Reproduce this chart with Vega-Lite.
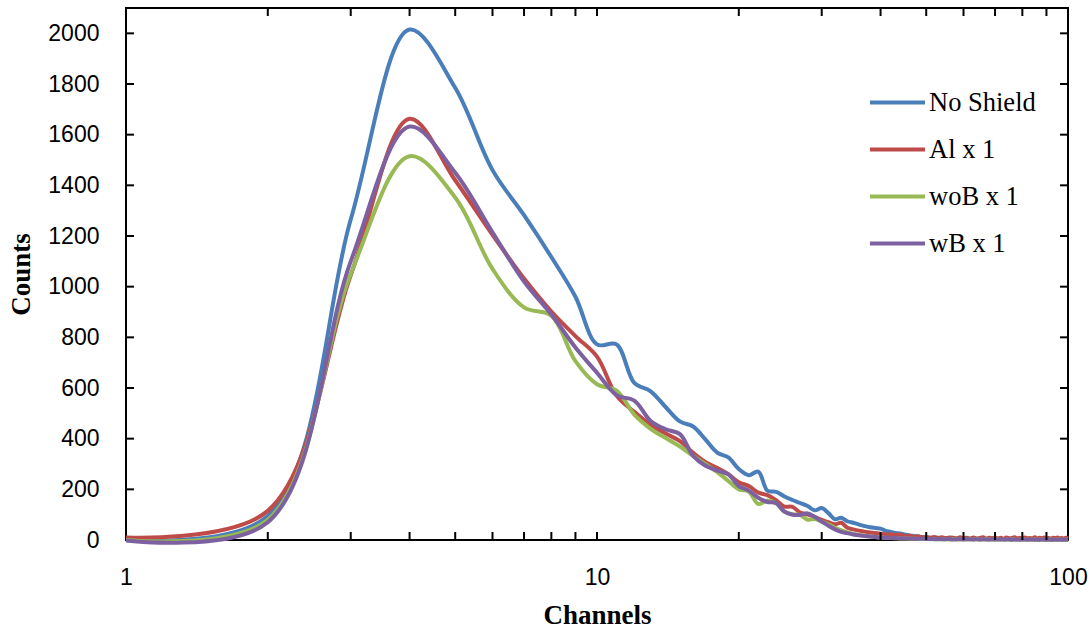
{
  "$schema": "https://vega.github.io/schema/vega-lite/v6.json",
  "width": 942,
  "height": 532,
  "autosize": {"type": "none"},
  "padding": {"left": 126, "top": 8, "right": 22, "bottom": 88},
  "background": "white",
  "config": {
    "view": {"stroke": "black", "strokeWidth": 2}
  },
  "layer": [
    {
      "data": {"values": [
        {"ch":1,"No Shield":2,"Al x 1":10,"woB x 1":0,"wB x 1":-2},
        {"ch":2,"No Shield":95,"Al x 1":115,"woB x 1":80,"wB x 1":70},
        {"ch":3,"No Shield":1265,"Al x 1":1045,"woB x 1":1050,"wB x 1":1100},
        {"ch":4,"No Shield":2015,"Al x 1":1663,"woB x 1":1515,"wB x 1":1632},
        {"ch":5,"No Shield":1785,"Al x 1":1420,"woB x 1":1352,"wB x 1":1450},
        {"ch":6,"No Shield":1460,"Al x 1":1205,"woB x 1":1070,"wB x 1":1215},
        {"ch":7,"No Shield":1282,"Al x 1":1032,"woB x 1":918,"wB x 1":1020},
        {"ch":8,"No Shield":1117,"Al x 1":902,"woB x 1":885,"wB x 1":890},
        {"ch":9,"No Shield":960,"Al x 1":805,"woB x 1":706,"wB x 1":760},
        {"ch":10,"No Shield":772,"Al x 1":724,"woB x 1":615,"wB x 1":660},
        {"ch":11,"No Shield":772,"Al x 1":570,"woB x 1":590,"wB x 1":572},
        {"ch":12,"No Shield":620,"Al x 1":506,"woB x 1":495,"wB x 1":550},
        {"ch":13,"No Shield":587,"Al x 1":455,"woB x 1":439,"wB x 1":470},
        {"ch":14,"No Shield":524,"Al x 1":420,"woB x 1":402,"wB x 1":437},
        {"ch":15,"No Shield":468,"Al x 1":390,"woB x 1":369,"wB x 1":418},
        {"ch":16,"No Shield":448,"Al x 1":344,"woB x 1":332,"wB x 1":332},
        {"ch":17,"No Shield":396,"Al x 1":307,"woB x 1":299,"wB x 1":293},
        {"ch":18,"No Shield":345,"Al x 1":284,"woB x 1":268,"wB x 1":274},
        {"ch":19,"No Shield":326,"Al x 1":260,"woB x 1":233,"wB x 1":259},
        {"ch":20,"No Shield":280,"Al x 1":228,"woB x 1":200,"wB x 1":213},
        {"ch":21,"No Shield":256,"Al x 1":213,"woB x 1":191,"wB x 1":195},
        {"ch":22,"No Shield":270,"Al x 1":187,"woB x 1":142,"wB x 1":167},
        {"ch":23,"No Shield":195,"Al x 1":177,"woB x 1":156,"wB x 1":150},
        {"ch":24,"No Shield":190,"Al x 1":157,"woB x 1":145,"wB x 1":146},
        {"ch":25,"No Shield":172,"Al x 1":132,"woB x 1":112,"wB x 1":112},
        {"ch":26,"No Shield":158,"Al x 1":131,"woB x 1":102,"wB x 1":100},
        {"ch":27,"No Shield":146,"Al x 1":108,"woB x 1":99,"wB x 1":99},
        {"ch":28,"No Shield":134,"Al x 1":100,"woB x 1":80,"wB x 1":105},
        {"ch":29,"No Shield":117,"Al x 1":91,"woB x 1":83,"wB x 1":91},
        {"ch":30,"No Shield":126,"Al x 1":79,"woB x 1":73,"wB x 1":73},
        {"ch":31,"No Shield":106,"Al x 1":70,"woB x 1":62,"wB x 1":56},
        {"ch":32,"No Shield":82,"Al x 1":62,"woB x 1":48,"wB x 1":42},
        {"ch":33,"No Shield":88,"Al x 1":68,"woB x 1":38,"wB x 1":32},
        {"ch":34,"No Shield":74,"Al x 1":48,"woB x 1":30,"wB x 1":27},
        {"ch":35,"No Shield":68,"Al x 1":42,"woB x 1":24,"wB x 1":22},
        {"ch":36,"No Shield":61,"Al x 1":37,"woB x 1":20,"wB x 1":19},
        {"ch":37,"No Shield":55,"Al x 1":33,"woB x 1":17,"wB x 1":16},
        {"ch":38,"No Shield":50,"Al x 1":30,"woB x 1":14,"wB x 1":14},
        {"ch":39,"No Shield":47,"Al x 1":28,"woB x 1":12,"wB x 1":12},
        {"ch":40,"No Shield":45,"Al x 1":25,"woB x 1":10,"wB x 1":10},
        {"ch":41,"No Shield":36,"Al x 1":22,"woB x 1":9,"wB x 1":9},
        {"ch":42,"No Shield":32,"Al x 1":23,"woB x 1":8,"wB x 1":8},
        {"ch":43,"No Shield":28,"Al x 1":19,"woB x 1":7,"wB x 1":8},
        {"ch":44,"No Shield":26,"Al x 1":22,"woB x 1":6,"wB x 1":7},
        {"ch":45,"No Shield":22,"Al x 1":15,"woB x 1":6,"wB x 1":6},
        {"ch":46,"No Shield":18,"Al x 1":18,"woB x 1":5,"wB x 1":6},
        {"ch":47,"No Shield":16,"Al x 1":12,"woB x 1":5,"wB x 1":5},
        {"ch":48,"No Shield":14,"Al x 1":15,"woB x 1":4,"wB x 1":5},
        {"ch":49,"No Shield":12,"Al x 1":10,"woB x 1":4,"wB x 1":5},
        {"ch":50,"No Shield":11,"Al x 1":12,"woB x 1":4,"wB x 1":4},
        {"ch":51,"No Shield":9,"Al x 1":8,"woB x 1":3,"wB x 1":4},
        {"ch":52,"No Shield":8,"Al x 1":12,"woB x 1":4,"wB x 1":3},
        {"ch":53,"No Shield":9,"Al x 1":7,"woB x 1":2,"wB x 1":4},
        {"ch":54,"No Shield":7,"Al x 1":11,"woB x 1":3,"wB x 1":3},
        {"ch":55,"No Shield":8,"Al x 1":6,"woB x 1":3,"wB x 1":3},
        {"ch":56,"No Shield":6,"Al x 1":10,"woB x 1":2,"wB x 1":4},
        {"ch":57,"No Shield":7,"Al x 1":9,"woB x 1":4,"wB x 1":2},
        {"ch":58,"No Shield":6,"Al x 1":5,"woB x 1":2,"wB x 1":3},
        {"ch":59,"No Shield":7,"Al x 1":11,"woB x 1":3,"wB x 1":3},
        {"ch":60,"No Shield":5,"Al x 1":7,"woB x 1":2,"wB x 1":2},
        {"ch":61,"No Shield":6,"Al x 1":9,"woB x 1":3,"wB x 1":3},
        {"ch":62,"No Shield":5,"Al x 1":5,"woB x 1":2,"wB x 1":3},
        {"ch":63,"No Shield":6,"Al x 1":10,"woB x 1":2,"wB x 1":2},
        {"ch":64,"No Shield":5,"Al x 1":6,"woB x 1":3,"wB x 1":3},
        {"ch":65,"No Shield":4,"Al x 1":8,"woB x 1":1,"wB x 1":2},
        {"ch":66,"No Shield":6,"Al x 1":11,"woB x 1":2,"wB x 1":3},
        {"ch":67,"No Shield":5,"Al x 1":5,"woB x 1":3,"wB x 1":2},
        {"ch":68,"No Shield":4,"Al x 1":9,"woB x 1":2,"wB x 1":2},
        {"ch":69,"No Shield":5,"Al x 1":7,"woB x 1":1,"wB x 1":3},
        {"ch":70,"No Shield":4,"Al x 1":10,"woB x 1":2,"wB x 1":2},
        {"ch":71,"No Shield":5,"Al x 1":6,"woB x 1":3,"wB x 1":2},
        {"ch":72,"No Shield":4,"Al x 1":9,"woB x 1":1,"wB x 1":3},
        {"ch":73,"No Shield":3,"Al x 1":5,"woB x 1":2,"wB x 1":2},
        {"ch":74,"No Shield":5,"Al x 1":10,"woB x 1":2,"wB x 1":2},
        {"ch":75,"No Shield":4,"Al x 1":7,"woB x 1":1,"wB x 1":3},
        {"ch":76,"No Shield":3,"Al x 1":8,"woB x 1":3,"wB x 1":1},
        {"ch":77,"No Shield":4,"Al x 1":11,"woB x 1":2,"wB x 1":2},
        {"ch":78,"No Shield":5,"Al x 1":6,"woB x 1":1,"wB x 1":2},
        {"ch":79,"No Shield":3,"Al x 1":9,"woB x 1":2,"wB x 1":1},
        {"ch":80,"No Shield":4,"Al x 1":5,"woB x 1":1,"wB x 1":2},
        {"ch":81,"No Shield":3,"Al x 1":10,"woB x 1":2,"wB x 1":2},
        {"ch":82,"No Shield":4,"Al x 1":7,"woB x 1":1,"wB x 1":1},
        {"ch":83,"No Shield":3,"Al x 1":8,"woB x 1":2,"wB x 1":2},
        {"ch":84,"No Shield":4,"Al x 1":6,"woB x 1":1,"wB x 1":2},
        {"ch":85,"No Shield":3,"Al x 1":11,"woB x 1":2,"wB x 1":1},
        {"ch":86,"No Shield":2,"Al x 1":5,"woB x 1":1,"wB x 1":2},
        {"ch":87,"No Shield":4,"Al x 1":9,"woB x 1":1,"wB x 1":1},
        {"ch":88,"No Shield":3,"Al x 1":7,"woB x 1":2,"wB x 1":2},
        {"ch":89,"No Shield":3,"Al x 1":10,"woB x 1":1,"wB x 1":2},
        {"ch":90,"No Shield":2,"Al x 1":6,"woB x 1":2,"wB x 1":1},
        {"ch":91,"No Shield":3,"Al x 1":8,"woB x 1":1,"wB x 1":2},
        {"ch":92,"No Shield":2,"Al x 1":5,"woB x 1":2,"wB x 1":1},
        {"ch":93,"No Shield":4,"Al x 1":9,"woB x 1":1,"wB x 1":1},
        {"ch":94,"No Shield":3,"Al x 1":7,"woB x 1":1,"wB x 1":2},
        {"ch":95,"No Shield":2,"Al x 1":10,"woB x 1":2,"wB x 1":1},
        {"ch":96,"No Shield":3,"Al x 1":6,"woB x 1":1,"wB x 1":2},
        {"ch":97,"No Shield":2,"Al x 1":8,"woB x 1":2,"wB x 1":1},
        {"ch":98,"No Shield":3,"Al x 1":5,"woB x 1":1,"wB x 1":1},
        {"ch":99,"No Shield":2,"Al x 1":9,"woB x 1":1,"wB x 1":2},
        {"ch":100,"No Shield":3,"Al x 1":7,"woB x 1":2,"wB x 1":1}
      ]},
      "transform": [
        {"fold": ["No Shield", "Al x 1", "woB x 1", "wB x 1"], "as": ["series", "count"]}
      ],
      "mark": {"type": "line", "interpolate": "catmull-rom", "strokeWidth": 4, "clip": false},
      "encoding": {
        "x": {
          "field": "ch", "type": "quantitative",
          "scale": {"type": "log", "domain": [1, 100], "nice": false},
          "axis": {
            "orient": "bottom", "grid": false, "ticks": false, "tickSize": 0, "domain": false,
            "values": [1, 10, 100],
            "format": "d",
            "labelFont": "Liberation Sans", "labelFontSize": 23, "labelPadding": 26, "labelColor": "black",
            "labelFlush": false, "labelOverlap": false,
            "title": "Channels", "titleFont": "Liberation Serif", "titleFontSize": 27, "titleFontWeight": "bold", "titlePadding": 13, "titleColor": "black"
          }
        },
        "y": {
          "field": "count", "type": "quantitative",
          "scale": {"domain": [0, 2100], "nice": false},
          "axis": {
            "orient": "left", "grid": false, "ticks": false, "tickSize": 0, "domain": false,
            "values": [0,200,400,600,800,1000,1200,1400,1600,1800,2000],
            "format": "d",
            "labelFont": "Liberation Sans", "labelFontSize": 23, "labelPadding": 27, "labelColor": "black",
            "title": "Counts", "titleFont": "Liberation Serif", "titleFontSize": 27, "titleFontWeight": "bold", "titlePadding": 12, "titleColor": "black"
          }
        },
        "color": {
          "field": "series", "type": "nominal",
          "scale": {"domain": ["No Shield", "Al x 1", "woB x 1", "wB x 1"], "range": ["#4a7ebb", "#be4b48", "#98b954", "#7d60a0"]},
          "legend": {
            "orient": "none", "legendX": 742, "legendY": 65,
            "title": null, "padding": 0,
            "symbolType": "stroke", "symbolSize": 3025, "symbolStrokeWidth": 4,
            "labelFont": "Liberation Serif", "labelFontSize": 26.5, "labelColor": "black",
            "labelOffset": 2, "rowPadding": 4
          }
        }
      }
    },
    {
      "data": {"values": [
        {"tx":1,"ty":200},{"tx":1,"ty":400},{"tx":1,"ty":600},{"tx":1,"ty":800},{"tx":1,"ty":1000},
        {"tx":1,"ty":1200},{"tx":1,"ty":1400},{"tx":1,"ty":1600},{"tx":1,"ty":1800},{"tx":1,"ty":2000},
        {"tx":100,"ty":200},{"tx":100,"ty":400},{"tx":100,"ty":600},{"tx":100,"ty":800},{"tx":100,"ty":1000},
        {"tx":100,"ty":1200},{"tx":100,"ty":1400},{"tx":100,"ty":1600},{"tx":100,"ty":1800},{"tx":100,"ty":2000}
      ]},
      "mark": {"type": "tick", "orient": "horizontal", "size": 16, "thickness": 2, "color": "black", "opacity": 1, "clip": true},
      "encoding": {
        "x": {"field": "tx", "type": "quantitative"},
        "y": {"field": "ty", "type": "quantitative"}
      }
    },
    {
      "data": {"values": [
        {"tx":2,"ty":0},{"tx":3,"ty":0},{"tx":4,"ty":0},{"tx":5,"ty":0},{"tx":6,"ty":0},{"tx":7,"ty":0},{"tx":8,"ty":0},{"tx":9,"ty":0},{"tx":10,"ty":0},
        {"tx":20,"ty":0},{"tx":30,"ty":0},{"tx":40,"ty":0},{"tx":50,"ty":0},{"tx":60,"ty":0},{"tx":70,"ty":0},{"tx":80,"ty":0},{"tx":90,"ty":0},
        {"tx":2,"ty":2100},{"tx":3,"ty":2100},{"tx":4,"ty":2100},{"tx":5,"ty":2100},{"tx":6,"ty":2100},{"tx":7,"ty":2100},{"tx":8,"ty":2100},{"tx":9,"ty":2100},{"tx":10,"ty":2100},
        {"tx":20,"ty":2100},{"tx":30,"ty":2100},{"tx":40,"ty":2100},{"tx":50,"ty":2100},{"tx":60,"ty":2100},{"tx":70,"ty":2100},{"tx":80,"ty":2100},{"tx":90,"ty":2100}
      ]},
      "mark": {"type": "tick", "orient": "vertical", "size": 16, "thickness": 2, "color": "black", "opacity": 1, "clip": true},
      "encoding": {
        "x": {"field": "tx", "type": "quantitative"},
        "y": {"field": "ty", "type": "quantitative"}
      }
    }
  ]
}
